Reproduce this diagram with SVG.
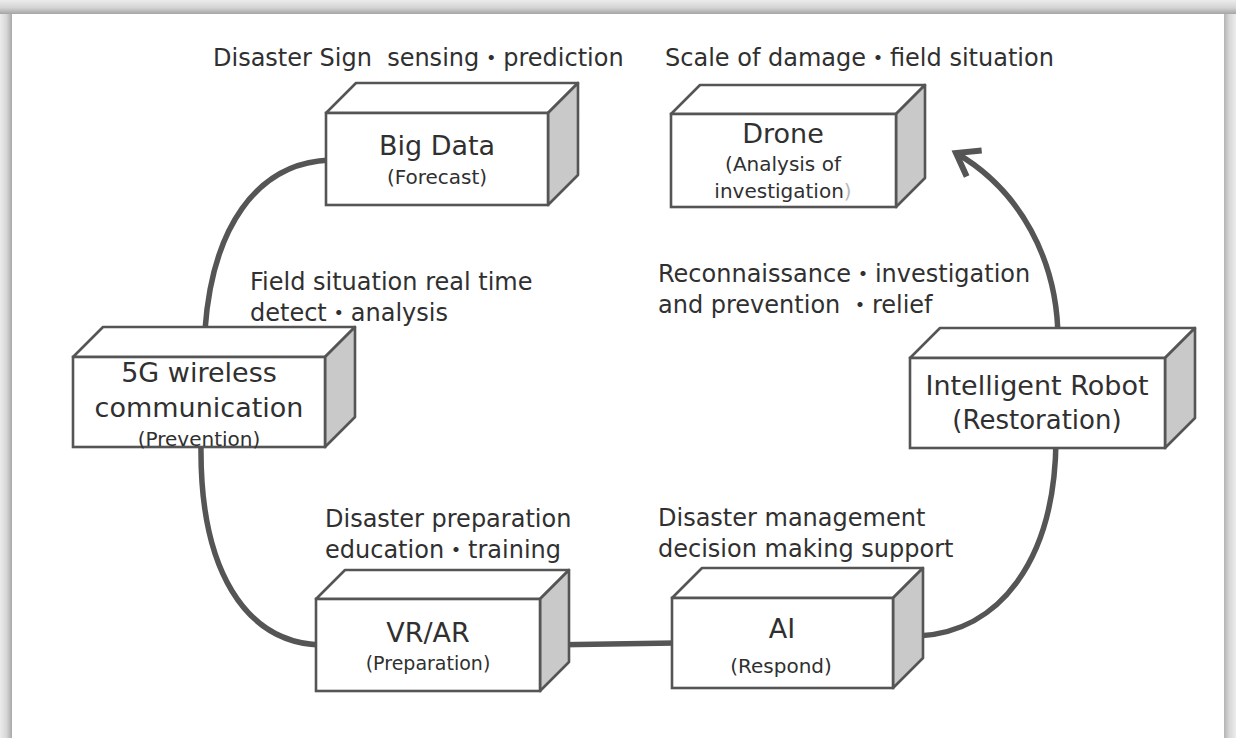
<svg xmlns="http://www.w3.org/2000/svg" width="1236" height="738" viewBox="0 0 1236 738">
  <defs>
    <linearGradient id="gTop" x1="0" y1="0" x2="0" y2="1">
      <stop offset="0" stop-color="#ececec"/>
      <stop offset="0.55" stop-color="#d4d4d4"/>
      <stop offset="1" stop-color="#a4a4a4"/>
    </linearGradient>
    <linearGradient id="gLeft" x1="0" y1="0" x2="1" y2="0">
      <stop offset="0" stop-color="#ececec"/>
      <stop offset="0.55" stop-color="#d6d6d6"/>
      <stop offset="1" stop-color="#a8a8a8"/>
    </linearGradient>
    <linearGradient id="gRight" x1="0" y1="0" x2="1" y2="0">
      <stop offset="0" stop-color="#b4b4b4"/>
      <stop offset="0.45" stop-color="#d8d8d8"/>
      <stop offset="1" stop-color="#ececec"/>
    </linearGradient>
    <marker id="openArrow" markerUnits="userSpaceOnUse" viewBox="-30 -20 40 40" refX="0" refY="0" markerWidth="40" markerHeight="40" orient="auto">
      <path d="M -21,-15 L 0,0 L -21,15" fill="none" stroke="#555555" stroke-width="6" stroke-linejoin="miter"/>
    </marker>
    <style>
      .front { fill: #ffffff; stroke: #555555; stroke-width: 2.6; }
      .top { fill: #ffffff; stroke: #555555; stroke-width: 2.6; stroke-linejoin: round; }
      .side { fill: #c9c9c9; stroke: #555555; stroke-width: 2.6; stroke-linejoin: round; }
      .conn { fill: none; stroke: #555555; stroke-width: 5.5; stroke-linecap: butt; }
      text { font-family: "DejaVu Sans", "Noto Sans CJK KR", sans-serif; fill: #303030; white-space: pre; }
      .title { font-size: 27px; text-anchor: middle; }
      .sub { font-size: 20px; text-anchor: middle; }
      .label { font-size: 24px; }
    </style>
  </defs>

  <!-- frame -->
  <rect x="0" y="0" width="1236" height="738" fill="#e8e8e8"/>
  <rect x="0" y="0" width="12" height="738" fill="url(#gLeft)"/>
  <rect x="1224" y="0" width="12" height="738" fill="url(#gRight)"/>
  <rect x="0" y="0" width="1236" height="14" fill="url(#gTop)"/>
  <rect x="12" y="14" width="1212" height="724" fill="#ffffff"/>

  <!-- connectors -->
  <g id="connectors">
    <path class="conn" d="M330,160 C 255,163 212,230 205,330 L 201,447 C 200,570 245,642 320,645"/>
    <path class="conn" d="M545,645 L 675,643"/>
    <path class="conn" d="M918,636 C 1000,632 1055,560 1056,440"/>
    <path class="conn" d="M1058,340 C 1058,260 1020,190 956,153" marker-end="url(#openArrow)"/>
  </g>

  <!-- labels -->
  <g id="labels">
    <text class="label" x="213" y="66">Disaster Sign  sensing・prediction</text>
    <text class="label" x="665" y="66">Scale of damage・field situation</text>
    <text class="label" x="250" y="290">Field situation real time</text>
    <text class="label" x="250" y="321">detect・analysis</text>
    <text class="label" x="658" y="282">Reconnaissance・investigation</text>
    <text class="label" x="658" y="313">and prevention ・relief</text>
    <text class="label" x="325" y="527">Disaster preparation</text>
    <text class="label" x="325" y="558">education・training</text>
    <text class="label" x="658" y="526">Disaster management</text>
    <text class="label" x="658" y="557">decision making support</text>
  </g>

  <!-- nodes -->
  <g id="node-bigdata">
    <path class="top" d="M326,113 L356,83 L578,83 L548,113 Z"/>
    <path class="side" d="M548,113 L578,83 L578,175 L548,205 Z"/>
    <rect class="front" x="326" y="113" width="222" height="92"/>
    <text class="title" x="437" y="155">Big Data</text>
    <text class="sub" x="437" y="184">(Forecast)</text>
  </g>

  <g id="node-drone">
    <path class="top" d="M671,114 L700,85 L925,85 L896,114 Z"/>
    <path class="side" d="M896,114 L925,85 L925,178 L896,207 Z"/>
    <rect class="front" x="671" y="114" width="225" height="93"/>
    <text class="title" x="783" y="143">Drone</text>
    <text class="sub" x="783" y="171">(Analysis of</text>
    <text class="sub" x="783" y="198">investigation<tspan fill="#b8b8b8">)</tspan></text>
  </g>

  <g id="node-5g">
    <path class="top" d="M73,357 L103,327 L355,327 L325,357 Z"/>
    <path class="side" d="M325,357 L355,327 L355,417 L325,447 Z"/>
    <rect class="front" x="73" y="357" width="252" height="90"/>
    <text class="title" x="199" y="382">5G wireless</text>
    <text class="title" x="199" y="417">communication</text>
    <text class="sub" x="199" y="446">(Prevention)</text>
  </g>

  <g id="node-robot">
    <path class="top" d="M910,358 L940,328 L1195,328 L1165,358 Z"/>
    <path class="side" d="M1165,358 L1195,328 L1195,418 L1165,448 Z"/>
    <rect class="front" x="910" y="358" width="255" height="90"/>
    <text class="title" x="1037" y="395">Intelligent Robot</text>
    <text class="title" x="1037" y="429" style="font-size:26px">(Restoration)</text>
  </g>

  <g id="node-vrar">
    <path class="top" d="M316,599 L345,570 L569,570 L540,599 Z"/>
    <path class="side" d="M540,599 L569,570 L569,662 L540,691 Z"/>
    <rect class="front" x="316" y="599" width="224" height="92"/>
    <text class="title" x="428" y="642">VR/AR</text>
    <text class="sub" x="428" y="670" style="font-size:19px">(Preparation)</text>
  </g>

  <g id="node-ai">
    <path class="top" d="M672,598 L702,568 L923,568 L893,598 Z"/>
    <path class="side" d="M893,598 L923,568 L923,658 L893,688 Z"/>
    <rect class="front" x="672" y="598" width="221" height="90"/>
    <text class="title" x="782" y="638">AI</text>
    <text class="sub" x="781" y="673">(Respond)</text>
  </g>
</svg>
